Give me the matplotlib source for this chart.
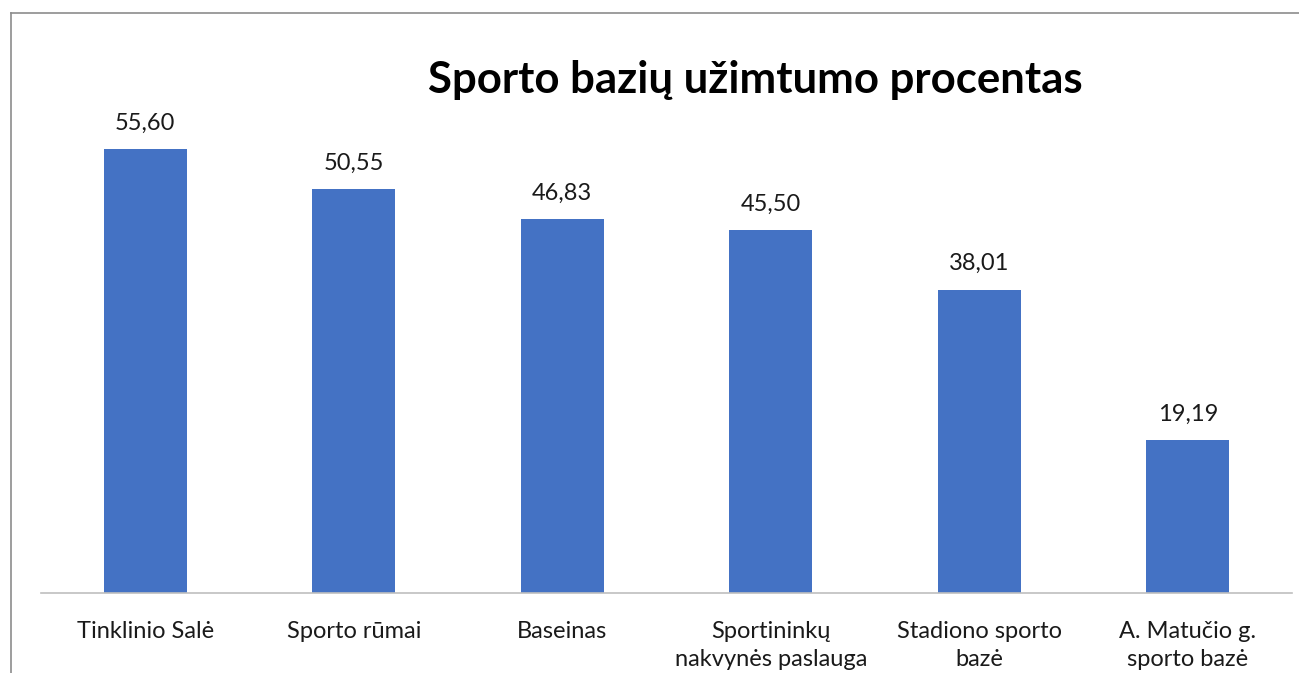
import matplotlib
matplotlib.use('Agg')
import matplotlib.pyplot as plt
from matplotlib.lines import Line2D


categories = ['Tinklinio Salė', 'Sporto rūmai', 'Baseinas',
              'Sportininkų\nnakvynės paslauga', 'Stadiono sporto\nbazė',
              'A. Matučio g.\nsporto bazė']
values = [55.60, 50.55, 46.83, 45.50, 38.01, 19.19]
title = 'Sporto bazių užimtumo procentas'

plt.rcParams['font.family'] = ['Lato', 'DejaVu Sans']

W, H = 1299, 673
fig = plt.figure(figsize=(W / 100, H / 100), dpi=100)
ax = fig.add_axes([41 / W, (H - 593) / H, (1292 - 41) / W, (593 - 114) / H])

x = range(len(values))
bars = ax.bar(x, values, width=0.4, color='#4472C4', zorder=2)

for b, v in zip(bars, values):
    ax.annotate('{:.2f}'.format(v).replace('.', ','),
                (b.get_x() + b.get_width() / 2, b.get_height()),
                xytext=(0, 11), textcoords='offset points',
                ha='center', va='bottom', fontsize=17, color='#1a1a1a')

ax.set_xlim(-0.5, len(values) - 0.5)
ax.set_ylim(0, 60)
ax.set_xticks(list(x))
ax.set_xticklabels(categories, fontsize=17, color='#1a1a1a', linespacing=1.45)
ax.tick_params(axis='x', length=0, pad=20)
ax.set_yticks([])
for s in ['top', 'right', 'left']:
    ax.spines[s].set_visible(False)
ax.spines['bottom'].set_color('#BFBFBF')
ax.spines['bottom'].set_linewidth(1.2)

fig.text(755 / W, (H - 80) / H, title, ha='center', va='center',
         fontsize=31.5, fontweight='bold', color='black')

# outer chart border (cropped at right and bottom)
fig.add_artist(Line2D([11 / W, 1], [(H - 13) / H, (H - 13) / H],
                      color='#8C8C8C', lw=1.2, transform=fig.transFigure))
fig.add_artist(Line2D([11 / W, 11 / W], [0, (H - 13) / H],
                      color='#8C8C8C', lw=1.2, transform=fig.transFigure))

fig.savefig('out.png', dpi=100)
